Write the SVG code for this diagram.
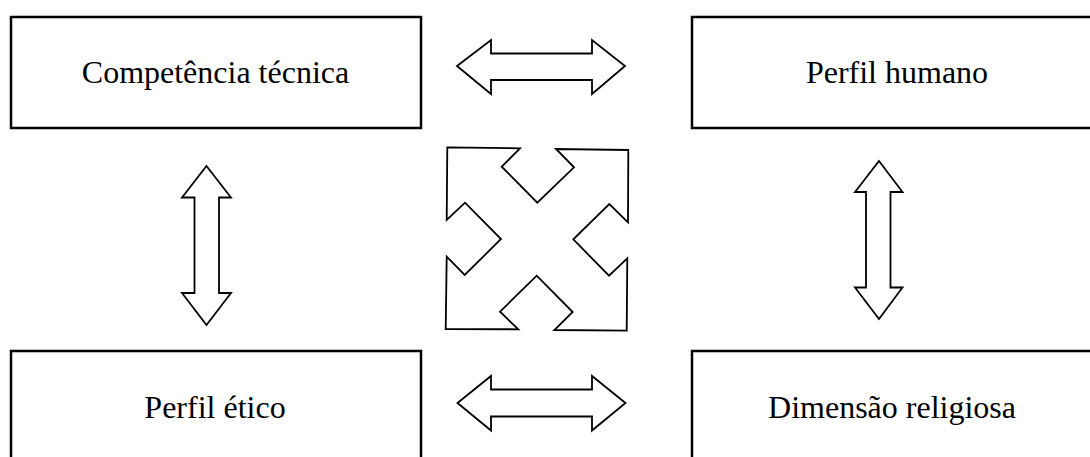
<svg xmlns="http://www.w3.org/2000/svg" width="1090" height="457" viewBox="0 0 1090 457">
<style>
.box{fill:#fff;stroke:#000;stroke-width:2.5}
.lbl{font-family:"Liberation Serif","Times New Roman",serif;font-size:32px;fill:#000;text-anchor:middle}
.arr{fill:#fff;stroke:#000;stroke-width:1.8;stroke-linejoin:miter}
</style>
<rect width="1090" height="457" fill="#fff"/>
<g id="node-competencia">
<rect class="box" x="11" y="17" width="410" height="111"/>
<text class="lbl" x="215.5" y="83">Competência técnica</text>
</g>
<g id="node-humano">
<rect class="box" x="692" y="17" width="410" height="111"/>
<text class="lbl" x="897" y="83">Perfil humano</text>
</g>
<g id="node-etico">
<rect class="box" x="11" y="351" width="410" height="111"/>
<text class="lbl" x="215" y="418">Perfil ético</text>
</g>
<g id="node-religiosa">
<rect class="box" x="692" y="351" width="410" height="111"/>
<text class="lbl" x="892" y="418">Dimensão religiosa</text>
</g>
<g id="connectors">
<polygon class="arr" points="457,66 491,40 491,53.5 592,53.5 592,40 625,66 592,94 592,80 491,80 491,94"/>
<polygon class="arr" points="457.5,403 491,376 491,389.5 592,389.5 592,376 625.5,403 592,430.5 592,416.5 491,416.5 491,430.5"/>
<polygon class="arr" points="206.5,166 231,197.5 219,197.5 219,293 231,293 206.5,325 182,293 194.5,293 194.5,197.5 182,197.5"/>
<polygon class="arr" points="879,161 902.5,192 890.5,192 890.5,287.5 902.5,287.5 879,319 855,287.5 866,287.5 866,192 855,192"/>
<polygon class="arr" points="447.3,147.3 520,148.3 501.7,166.7 537.3,202.7 574,167.3 556,149 628.3,150 628,222.3 609.3,204 573.3,239.3 609,275.7 627.3,258.3 626.7,330.7 554.3,330 572.7,312 536.7,275.7 500,311.7 518.3,329.3 445.7,329 446.7,256.7 464.7,275 501,239 465,202.7 446.7,220"/>
</g>
</svg>
